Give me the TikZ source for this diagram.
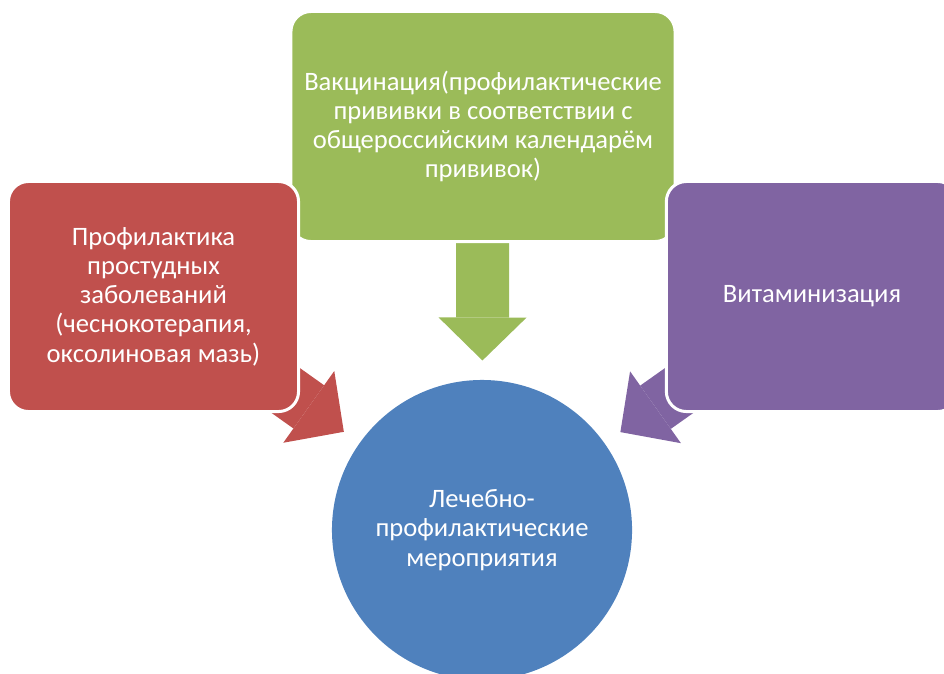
\documentclass[tikz,border=0pt]{standalone}
\usepackage{fontspec}
\setmainfont{Carlito}
\usepackage{tikz}
\usetikzlibrary{arrows.meta, backgrounds}
\definecolor{myred}{RGB}{192, 80, 77}
\definecolor{mygreen}{RGB}{155, 187, 89}
\definecolor{mypurple}{RGB}{128, 100, 162}
\definecolor{myblue}{RGB}{79, 129, 189}

\begin{document}
\begin{tikzpicture}[
    x=0.025cm, y=-0.025cm,
    box/.style={rectangle, draw=white, line width=0.075cm, rounded corners=0.5cm, text=white, align=center, font=\fontsize{18.9}{20.8}\selectfont, minimum height=5.75cm, inner sep=0pt},
    center/.style={circle, fill=myblue, text=white, align=center, font=\fontsize{18.9}{20.8}\selectfont, minimum size=7.5cm, inner sep=0pt},
    blockarrow/.style={line width=1.325cm, -{Triangle[length=1.075cm, width=2.2cm, line width=0pt]}, shorten >=0.48cm}
]
\useasboundingbox (0,0) rectangle (944,673);

\node[center] (core) at (482,530) {Лечебно-\\профилактические\\мероприятия};

\node[box, fill=mygreen, minimum width=9.6cm] (vacc) at (483,126.5) {Вакцинация(профилактические\\прививки в соответствии с\\общероссийским календарём\\прививок)};
\node[box, fill=myred, minimum width=7.25cm] (cold) at (153.5,296.5) {Профилактика\\простудных\\заболеваний\\(чеснокотерапия,\\оксолиновая мазь)};
\node[box, fill=mypurple, minimum width=7.28cm] (vitamin) at (812,296.5) {Витаминизация};

\begin{scope}[on background layer]
\draw[blockarrow, draw=mygreen] (vacc.center) -- (core);
\draw[blockarrow, draw=myred] (cold.center) -- (core);
\draw[blockarrow, draw=mypurple] (vitamin.center) -- (core);
\end{scope}

\end{tikzpicture}
\end{document}
